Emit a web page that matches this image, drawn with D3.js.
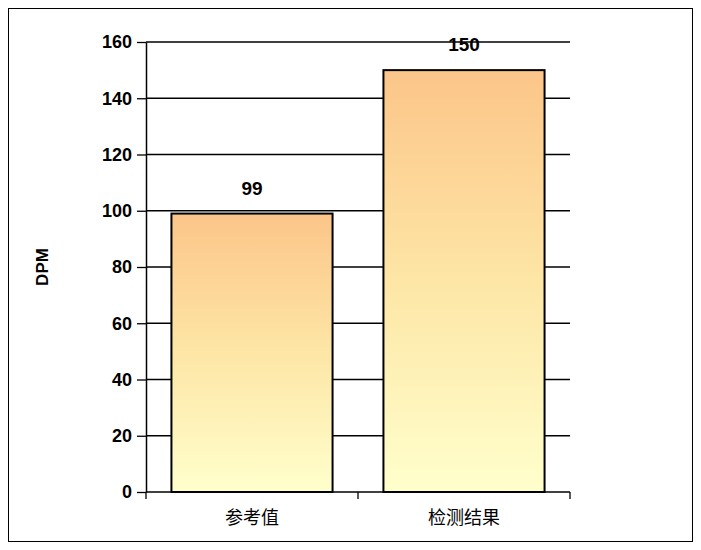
<!DOCTYPE html><html><head><meta charset="utf-8">
<script src="https://cdn.jsdelivr.net/npm/d3@7"></script>
<style>body{margin:0;background:#fff}</style></head><body>
<svg id="c" width="701" height="550"></svg>
<script>
const categories=["参考值","检测结果"];
const values=[99,150];
const yTicks=[0,20,40,60,80,100,120,140,160];
const svg=d3.select("#c");
svg.append("rect").attr("x",8.5).attr("y",8.5).attr("width",684).attr("height",533).attr("fill","#fff").attr("stroke","#000");
const defs=svg.append("defs");
const g=defs.append("linearGradient").attr("id","gr").attr("x1",0).attr("y1",0).attr("x2",0).attr("y2",1);
g.append("stop").attr("offset","0").attr("stop-color","#fcc589");
g.append("stop").attr("offset","0.5").attr("stop-color","#fde6a6");
g.append("stop").attr("offset","1").attr("stop-color","#ffffcc");
const L=146,R=570,T=42,B=492;
const x=d3.scaleBand().domain(categories).range([L,R]).paddingInner(0.24).paddingOuter(0.12);
const y=d3.scaleLinear().domain([0,160]).range([B,T]);
svg.append("g").selectAll("line").data(yTicks.filter(d=>d>0)).join("line")
 .attr("x1",L).attr("x2",R).attr("y1",d=>y(d)).attr("y2",d=>y(d)).attr("stroke","#000").attr("stroke-width",1.3);
svg.selectAll(".bar").data(values).join("rect")
 .attr("x",(d,i)=>x(categories[i])).attr("width",x.bandwidth())
 .attr("y",d=>y(d)).attr("height",d=>B-y(d)).attr("fill","url(#gr)").attr("stroke","#000").attr("stroke-width",2);
svg.selectAll(".lab").data(values).join("text")
 .attr("x",(d,i)=>x(categories[i])+x.bandwidth()/2).attr("y",d=>y(d)-19)
 .attr("text-anchor","middle").style("font-family","Liberation Sans, Arial").style("font-weight","bold").style("font-size","19px").text(d=>d);
const ya=svg.append("g").attr("transform",`translate(${L},0)`).call(d3.axisLeft(y).tickValues(yTicks).tickSize(9).tickSizeOuter(0));
ya.select(".domain").attr("stroke-width",1.5);
ya.selectAll(".tick line").attr("stroke-width",1.3);
ya.selectAll("text").style("font-family","Liberation Sans, Arial").style("font-weight","bold").style("font-size","18px").attr("fill","#000").attr("dx",-2);
const xa=svg.append("g").attr("transform",`translate(0,${B})`).call(d3.axisBottom(x).tickSize(7).tickSizeOuter(0));
xa.select(".domain").attr("d",`M${L},0H${R}`).attr("stroke-width",1.5);
xa.selectAll(".tick line").remove();
xa.selectAll("text").style("font-family","Noto Sans CJK SC").style("font-size","18px").attr("fill","#000").attr("dy","1.2em");
const bt=[L,x(categories[1])-x.step()*x.paddingInner()/2,R];
svg.append("g").selectAll("line").data(bt).join("line").attr("x1",d=>d).attr("x2",d=>d).attr("y1",B).attr("y2",B+7).attr("stroke","#000").attr("stroke-width",1.3);
svg.append("text").attr("transform","translate(48,267) rotate(-90)").attr("text-anchor","middle")
 .style("font-family","Liberation Sans, Arial").style("font-weight","bold").style("font-size","17px").text("DPM");
</script></body></html>
